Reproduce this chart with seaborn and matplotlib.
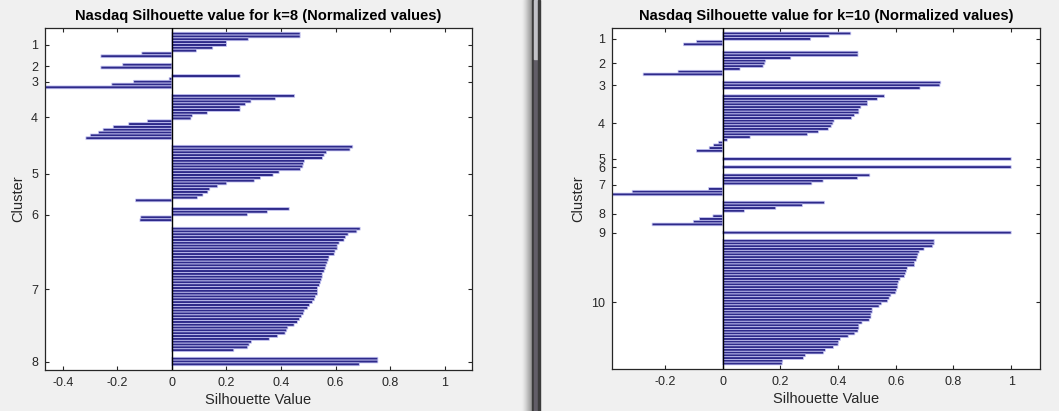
import numpy as np
import pandas as pd
import matplotlib
matplotlib.use('Agg')
import matplotlib.pyplot as plt
from matplotlib.patches import Rectangle
import seaborn as sns

# silhouette values per cluster, sorted descending
k8_clusters = [
    [0.47, 0.47, 0.28, 0.20, 0.20, 0.15, 0.09, -0.11, -0.26],
    [-0.18, -0.26],
    [0.25, -0.01, -0.14, -0.22, -0.465],
    [0.45, 0.38, 0.29, 0.27, 0.25, 0.25, 0.13, 0.075, 0.07,
     -0.09, -0.158, -0.215, -0.252, -0.269, -0.299, -0.315],
    [0.663, 0.653, 0.567, 0.558, 0.552, 0.486, 0.482, 0.48, 0.471, 0.393,
     0.371, 0.325, 0.302, 0.201, 0.168, 0.139, 0.132, 0.114, 0.094, -0.133],
    [0.43, 0.35, 0.277, -0.114, -0.117],
    [0.690, 0.678, 0.646, 0.637, 0.631, 0.613, 0.606, 0.606, 0.598, 0.595,
     0.576, 0.573, 0.569, 0.565, 0.562, 0.558, 0.551, 0.551, 0.548, 0.545,
     0.541, 0.534, 0.534, 0.534, 0.526, 0.523, 0.515, 0.505, 0.498, 0.485,
     0.482, 0.475, 0.468, 0.460, 0.448, 0.425, 0.421, 0.415, 0.388, 0.357,
     0.292, 0.283, 0.278, 0.227],
    [0.755, 0.755, 0.687],
]

k10_clusters = [
    [0.444, 0.369, 0.305, -0.091, -0.136],
    [0.469, 0.469, 0.236, 0.149, 0.146, 0.140, 0.060, -0.155, -0.276],
    [0.756, 0.753, 0.684],
    [0.561, 0.536, 0.502, 0.502, 0.479, 0.472, 0.472, 0.457, 0.447, 0.386,
     0.382, 0.376, 0.366, 0.332, 0.294, 0.095, 0.016, -0.015, -0.032, -0.047,
     -0.091],
    [1.0],
    [1.0],
    [0.51, 0.468, 0.348, 0.309, 0.002, -0.049, -0.314, -0.384],
    [0.353, 0.276, 0.184, 0.075, 0.002, -0.034, -0.081, -0.102, -0.245],
    [1.0],
    [0.733, 0.733, 0.728, 0.698, 0.681, 0.677, 0.674, 0.671, 0.665, 0.665,
     0.640, 0.637, 0.634, 0.630, 0.615, 0.610, 0.607, 0.607, 0.603, 0.600,
     0.583, 0.577, 0.572, 0.551, 0.542, 0.518, 0.518, 0.514, 0.514, 0.508,
     0.483, 0.472, 0.472, 0.469, 0.458, 0.435, 0.408, 0.402, 0.400, 0.384,
     0.356, 0.350, 0.287, 0.280, 0.208, 0.206],
]

titles = ['Nasdaq Silhouette value for k=8 (Normalized values)',
          'Nasdaq Silhouette value for k=10 (Normalized values)']

BAR = '#2e2a8a'
EDGE = '#c8c8f6'
INK = '#262626'
BG = '#f0f0f0'


def silhouette_frame(clusters, space=2):
    # MATLAB style layout: `space` empty rows before each cluster and at the end
    rows, vals, ticks = [], [], []
    pos = 1 + space
    for c in clusters:
        r = list(range(pos, pos + len(c)))
        rows += r
        vals += c
        ticks.append(np.mean(r))
        pos += len(c) + space
    return pd.DataFrame({'row': rows, 'value': vals}), ticks, pos - 1


sns.set_theme(style='white')
plt.rcParams['font.family'] = ['Liberation Sans', 'DejaVu Sans']

fig = plt.figure(figsize=(10.59, 4.11), dpi=100, facecolor=BG)
ax1 = fig.add_axes([45 / 1059, 41 / 411, 427 / 1059, 342 / 411])
ax2 = fig.add_axes([612 / 1059, 42 / 411, 428 / 1059, 341 / 411])

for ax, clusters, title, xt in [(ax1, k8_clusters, titles[0], [-0.4, -0.2, 0, 0.2, 0.4, 0.6, 0.8, 1]),
                                 (ax2, k10_clusters, titles[1], [-0.2, 0, 0.2, 0.4, 0.6, 0.8, 1])]:
    df, ticks, nrows = silhouette_frame(clusters)
    sns.barplot(data=df, x='value', y='row', orient='h', native_scale=True,
                width=1.0, color=BAR, saturation=1, edgecolor=EDGE,
                linewidth=0.55, errorbar=None, snap=False, ax=ax)
    ax.axvline(0, color='black', lw=1.0, zorder=5)
    ax.set_xlim(df['value'].min(), 1.1)
    ax.set_ylim(nrows, 1)
    ax.set_yticks(ticks)
    ax.set_yticklabels([str(i + 1) for i in range(len(clusters))])
    ax.set_xticks(xt)
    ax.set_xticklabels(['0' if v == 0 else f'{v:g}' for v in xt])
    ax.set_facecolor('white')
    ax.tick_params(axis='both', direction='in', length=3, width=0.8,
                   top=True, right=True, bottom=True, left=True,
                   labelsize=9, colors=INK, pad=5)
    for s in ax.spines.values():
        s.set_color(INK)
        s.set_linewidth(0.9)
    ax.set_title(title, fontsize=10.6, fontweight='bold', color='black', pad=6)
    ax.set_xlabel('Silhouette Value', fontsize=10.5, color=INK, labelpad=3)
    ax.set_ylabel('Cluster', fontsize=10.5, color=INK, labelpad=4)

# window splitter between the two figure panels
shade = ['#eeeeee', '#e8e8e8', '#e0e0e0', '#d8d8d8', '#cecece', '#c4c4c4',
         '#b8b8b8', '#aeaeae', '#a4a4a4', '#9a9a9a']
for i, c in enumerate(shade):
    fig.patches.append(Rectangle(((522 + i) / 1059, 0), 1 / 1059, 1,
                                 transform=fig.transFigure, color=c, zorder=0))
fig.patches.append(Rectangle((532 / 1059, 0), 1.5 / 1059, 1,
                             transform=fig.transFigure, color='#3c3c3c', zorder=0))
fig.patches.append(Rectangle((533.5 / 1059, 0), 4.5 / 1059, 1 - 59 / 411,
                             transform=fig.transFigure, color='#625e68', zorder=0))
fig.patches.append(Rectangle((533.5 / 1059, 1 - 59 / 411), 4.5 / 1059, 59 / 411,
                             transform=fig.transFigure, color='#c2c2c8', zorder=0))
fig.patches.append(Rectangle((538 / 1059, 0), 1.5 / 1059, 1,
                             transform=fig.transFigure, color='#3c3c3c', zorder=0))

fig.savefig('out.png', dpi=100, facecolor=BG)
